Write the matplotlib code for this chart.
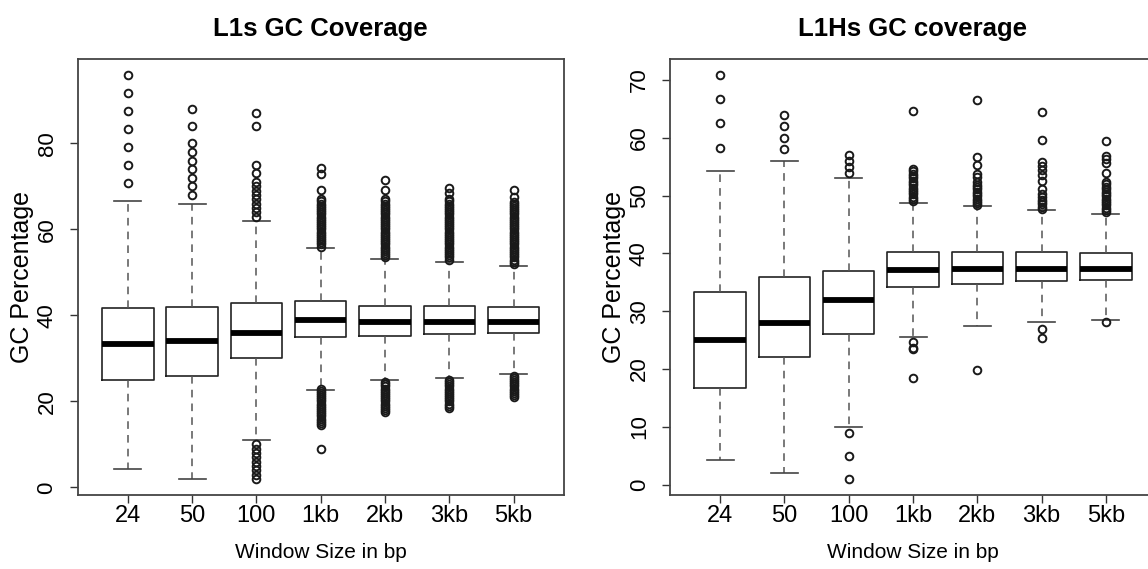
import matplotlib
matplotlib.use("Agg")
import matplotlib.pyplot as plt

plt.rcParams['font.family'] = ['Liberation Sans', 'DejaVu Sans']
NARROW = ['Liberation Sans Narrow', 'Liberation Sans', 'DejaVu Sans']

windows = ["24", "50", "100", "1kb", "2kb", "3kb", "5kb"]

# L1s panel: box stats (q1, median, q3, whisker low, whisker high)
l1s_q1 = [25.0, 26.0, 30.0, 34.9, 35.3, 35.7, 36.0]
l1s_med = [33.3, 34.0, 36.0, 38.9, 38.5, 38.5, 38.5]
l1s_q3 = [41.7, 42.0, 43.0, 43.3, 42.3, 42.3, 41.9]
l1s_wlo = [4.2, 2.0, 11.0, 22.6, 24.9, 25.5, 26.4]
l1s_whi = [66.7, 66.0, 62.0, 55.6, 53.1, 52.5, 51.6]
l1s_fliers = [
    [70.8, 75.0, 79.2, 83.3, 87.5, 91.7, 95.8],
    [68.0, 70.0, 72.0, 74.0, 76.0, 78.0, 80.0, 84.0, 88.0],
    [2, 3, 4, 5, 6, 7, 8, 9, 10,
     63, 64, 65, 66, 67, 68, 69, 70, 71, 73, 75, 84, 87],
    [9.0, 14.6, 15.0, 15.5, 16.0, 16.5, 17.0, 17.5, 18.0, 18.5, 19.0, 19.5,
     20.0, 20.5, 21.0, 21.5, 22.0, 22.5, 23.0,
     56.0, 56.5, 57.0, 57.5, 58.0, 58.5, 59.0, 59.5, 60.0, 60.5, 61.0, 61.5,
     62.0, 62.5, 63.0, 63.5, 64.0, 64.5, 65.0, 65.5, 66.0, 66.5, 67.0,
     69.2, 72.8, 74.2],
    [17.5, 18.0, 18.5, 19.0, 19.5, 20.0, 20.5, 21.0, 21.5, 22.0, 22.5, 23.0,
     23.5, 24.0, 24.5,
     53.5, 54.0, 54.5, 55.0, 55.5, 56.0, 56.5, 57.0, 57.5, 58.0, 58.5, 59.0,
     59.5, 60.0, 60.5, 61.0, 61.5, 62.0, 62.5, 63.0, 63.5, 64.0, 64.5, 65.0,
     65.5, 66.0, 66.5, 67.0, 69.2, 71.5],
    [18.4, 19.0, 19.5, 20.0, 20.5, 21.0, 21.5, 22.0, 22.5, 23.0, 23.5, 24.0,
     24.5, 25.0,
     53.0, 53.5, 54.0, 54.5, 55.0, 55.5, 56.0, 56.5, 57.0, 57.5, 58.0, 58.5,
     59.0, 59.5, 60.0, 60.5, 61.0, 61.5, 62.0, 62.5, 63.0, 63.5, 64.0, 64.5,
     65.0, 65.5, 66.0, 66.5, 67.0, 68.5, 69.7],
    [21.1, 21.5, 22.0, 22.5, 23.0, 23.5, 24.0, 24.5, 25.0, 25.5, 25.9,
     52.0, 52.5, 53.0, 53.5, 54.0, 54.5, 55.0, 55.5, 56.0, 56.5, 57.0, 57.5,
     58.0, 58.5, 59.0, 59.5, 60.0, 60.5, 61.0, 61.5, 62.0, 62.5, 63.0, 63.5,
     64.0, 64.5, 65.0, 65.5, 66.0, 66.4, 67.6, 69.1],
]

# L1Hs panel
l1hs_q1 = [16.7, 22.0, 26.0, 34.2, 34.7, 35.2, 35.4]
l1hs_med = [25.0, 28.0, 32.0, 37.1, 37.3, 37.3, 37.3]
l1hs_q3 = [33.3, 36.0, 37.0, 40.3, 40.3, 40.3, 40.0]
l1hs_wlo = [4.2, 2.0, 10.0, 25.5, 27.5, 28.2, 28.4]
l1hs_whi = [54.2, 56.0, 53.0, 48.8, 48.2, 47.5, 46.9]
l1hs_fliers = [
    [58.3, 62.5, 66.7, 70.8],
    [58.0, 60.0, 62.0, 64.0],
    [1, 5, 9, 54, 55, 56, 57],
    [18.5, 23.4, 23.6, 24.7,
     49.0, 49.4, 49.8, 50.2, 50.6, 51.0, 51.4, 51.8, 52.2, 52.6, 53.0, 53.4,
     53.8, 54.2, 54.6, 64.7],
    [19.8,
     48.3, 48.7, 49.1, 49.5, 49.9, 50.3, 50.7, 51.1, 51.5, 51.9, 52.4, 53.2,
     53.7, 55.3, 56.7, 66.6],
    [25.3, 27.0,
     47.7, 48.1, 48.5, 48.9, 49.3, 49.7, 50.2, 51.1, 52.5, 53.5, 54.4, 55.1,
     55.9, 59.7, 64.5],
    [28.2,
     47.1, 47.5, 47.9, 48.3, 48.7, 49.1, 49.5, 49.9, 50.3, 50.7, 51.1, 51.5,
     52.0, 52.4, 54.0, 55.6, 56.4, 56.8, 59.5],
]

W, H = 1148, 569
fig = plt.figure(figsize=(W / 100, H / 100), dpi=100)


def make_stats(q1, med, q3, wlo, whi, fliers):
    out = []
    for i in range(len(med)):
        out.append(dict(q1=q1[i], med=med[i], q3=q3[i], whislo=wlo[i],
                        whishi=whi[i], fliers=fliers[i]))
    return out


def draw_panel(ax, stats, title, yticks):
    ax.bxp(stats, positions=range(1, len(stats) + 1), widths=0.8,
           boxprops=dict(color="#222222", linewidth=1.2),
           medianprops=dict(color="black", linewidth=4.2, solid_capstyle="butt"),
           whiskerprops=dict(color="#555555", linewidth=1.1,
                             linestyle=(0, (5, 4))),
           capprops=dict(color="#444444", linewidth=1.2),
           flierprops=dict(marker="o", markersize=5.5, markerfacecolor="none",
                           markeredgecolor="#1a1a1a", markeredgewidth=1.4),
           capwidths=0.42)
    allv = []
    for s in stats:
        allv += [s["whislo"], s["whishi"]] + list(s["fliers"])
    lo, hi = min(allv), max(allv)
    pad = (hi - lo) * 0.04
    ax.set_ylim(lo - pad, hi + pad)
    ax.set_xlim(0.22, 7.78)
    ax.set_xticks(range(1, len(windows) + 1))
    ax.set_xticklabels(windows, fontsize=17, family=NARROW)
    ax.set_yticks(yticks)
    ax.set_yticklabels([str(t) for t in yticks], rotation=90, va="center",
                       fontsize=16)
    ax.tick_params(axis="both", direction="out", length=5.5, width=1,
                   color="#333333")
    ax.tick_params(axis="x", pad=1.5)
    ax.tick_params(axis="y", pad=9)
    for sp in ax.spines.values():
        sp.set_color("#444444")
        sp.set_linewidth(1.3)
    ax.set_title(title, fontsize=18.5, fontweight="bold", pad=17)


left_px = [77.7, 670.0]
width_px = 486.0
top_px, bottom_px = 59.3, 495.0

ax1 = fig.add_axes([left_px[0] / W, 1 - bottom_px / H, width_px / W, (bottom_px - top_px) / H])
draw_panel(ax1, make_stats(l1s_q1, l1s_med, l1s_q3, l1s_wlo, l1s_whi, l1s_fliers),
           "L1s GC Coverage", [0, 20, 40, 60, 80])

ax2 = fig.add_axes([left_px[1] / W, 1 - bottom_px / H, width_px / W, (bottom_px - top_px) / H])
draw_panel(ax2, make_stats(l1hs_q1, l1hs_med, l1hs_q3, l1hs_wlo, l1hs_whi, l1hs_fliers),
           "L1Hs GC coverage", [0, 10, 20, 30, 40, 50, 60, 70])

mid_y = 1 - (top_px + bottom_px) / 2 / H
for lx in left_px:
    fig.text((lx + width_px / 2) / W, 1 - 553 / H, "Window Size in bp",
             fontsize=15, family=NARROW, ha="center", va="center")
    fig.text((lx - 56) / W, mid_y, "GC Percentage", fontsize=18,
             rotation=90, ha="center", va="center")

fig.savefig("out.png", dpi=100)
